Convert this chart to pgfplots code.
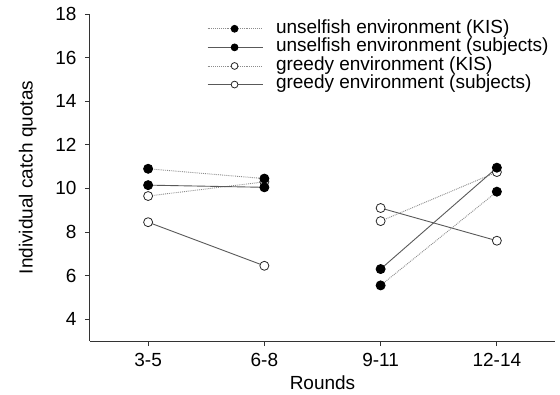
\documentclass[border=0pt]{standalone}
\usepackage{fontspec}
\setmainfont{Liberation Sans}
\usepackage{pgfplots}
\pgfplotsset{compat=1.18}
\definecolor{solidgray}{gray}{0.35}
\definecolor{dotgray}{gray}{0.55}
\newcommand\ff{\fontsize{19}{22}\selectfont}
\begin{document}
\begin{tikzpicture}
\useasboundingbox (-90pt,-53pt) rectangle (470pt,341pt);
\begin{axis}[
  scale only axis,
  width=465pt, height=327pt,
  xmin=-0.5, xmax=3.5,
  ymin=3, ymax=18,
  axis x line*=bottom, axis y line*=left,
  axis line style={line width=1pt, color=black!80},
  xtick={0,1,2,3},
  xticklabels={3-5,6-8,9-11,12-14},
  ytick={4,6,8,10,12,14,16,18},
  tick align=outside,
  major tick length=5pt,
  tick style={line width=0.8pt, color=black!80},
  /pgf/number format/assume math mode=true,
  tick label style={font=\ff},
  yticklabel style={xshift=-5pt},
  xticklabel style={yshift=-4pt},
  label style={font=\ff},
  xlabel style={yshift=-2pt},
  ylabel style={yshift=12pt},
  xlabel={Rounds},
  ylabel={Individual catch quotas},
  unbounded coords=jump,
  reverse legend,
  legend style={draw=none, fill=none, at={(0.245,0.99)}, anchor=north west,
    font=\ff, row sep=0pt, column sep=13pt,
    nodes={inner sep=0pt, text height=13.6pt, text depth=5pt}},
  legend cell align=left,
  legend image code/.code={%
    \draw[#1, mark repeat=2, mark phase=2] plot coordinates {(0pt,0pt) (27pt,0pt) (55pt,0pt)};},
  legend image post style={mark size=3.4pt},
]
% greedy environment (subjects)
\addplot[solidgray, line width=0.9pt, mark=*, mark size=4.5pt,
  mark options={solid, fill=white, draw=black!85, line width=0.8pt}]
  coordinates {(0,8.45) (1,6.45) (1.5,nan) (2,9.1) (3,7.6)};
\addlegendentry{greedy environment (subjects)}
% greedy environment (KIS)
\addplot[dotgray, line width=0.9pt, densely dotted, mark=*, mark size=4.5pt,
  mark options={solid, fill=white, draw=black!85, line width=0.8pt}]
  coordinates {(0,9.65) (1,10.3) (1.5,nan) (2,8.5) (3,10.75)};
\addlegendentry{greedy environment (KIS)}
% unselfish environment (subjects)
\addplot[solidgray, line width=0.9pt, mark=*, mark size=4.5pt,
  mark options={solid, fill=black, draw=black}]
  coordinates {(0,10.15) (1,10.05) (1.5,nan) (2,6.3) (3,10.95)};
\addlegendentry{unselfish environment (subjects)}
% unselfish environment (KIS)
\addplot[dotgray, line width=0.9pt, densely dotted, mark=*, mark size=4.5pt,
  mark options={solid, fill=black, draw=black}]
  coordinates {(0,10.9) (1,10.45) (1.5,nan) (2,5.55) (3,9.85)};
\addlegendentry{unselfish environment (KIS)}
\end{axis}
\end{tikzpicture}
\end{document}
